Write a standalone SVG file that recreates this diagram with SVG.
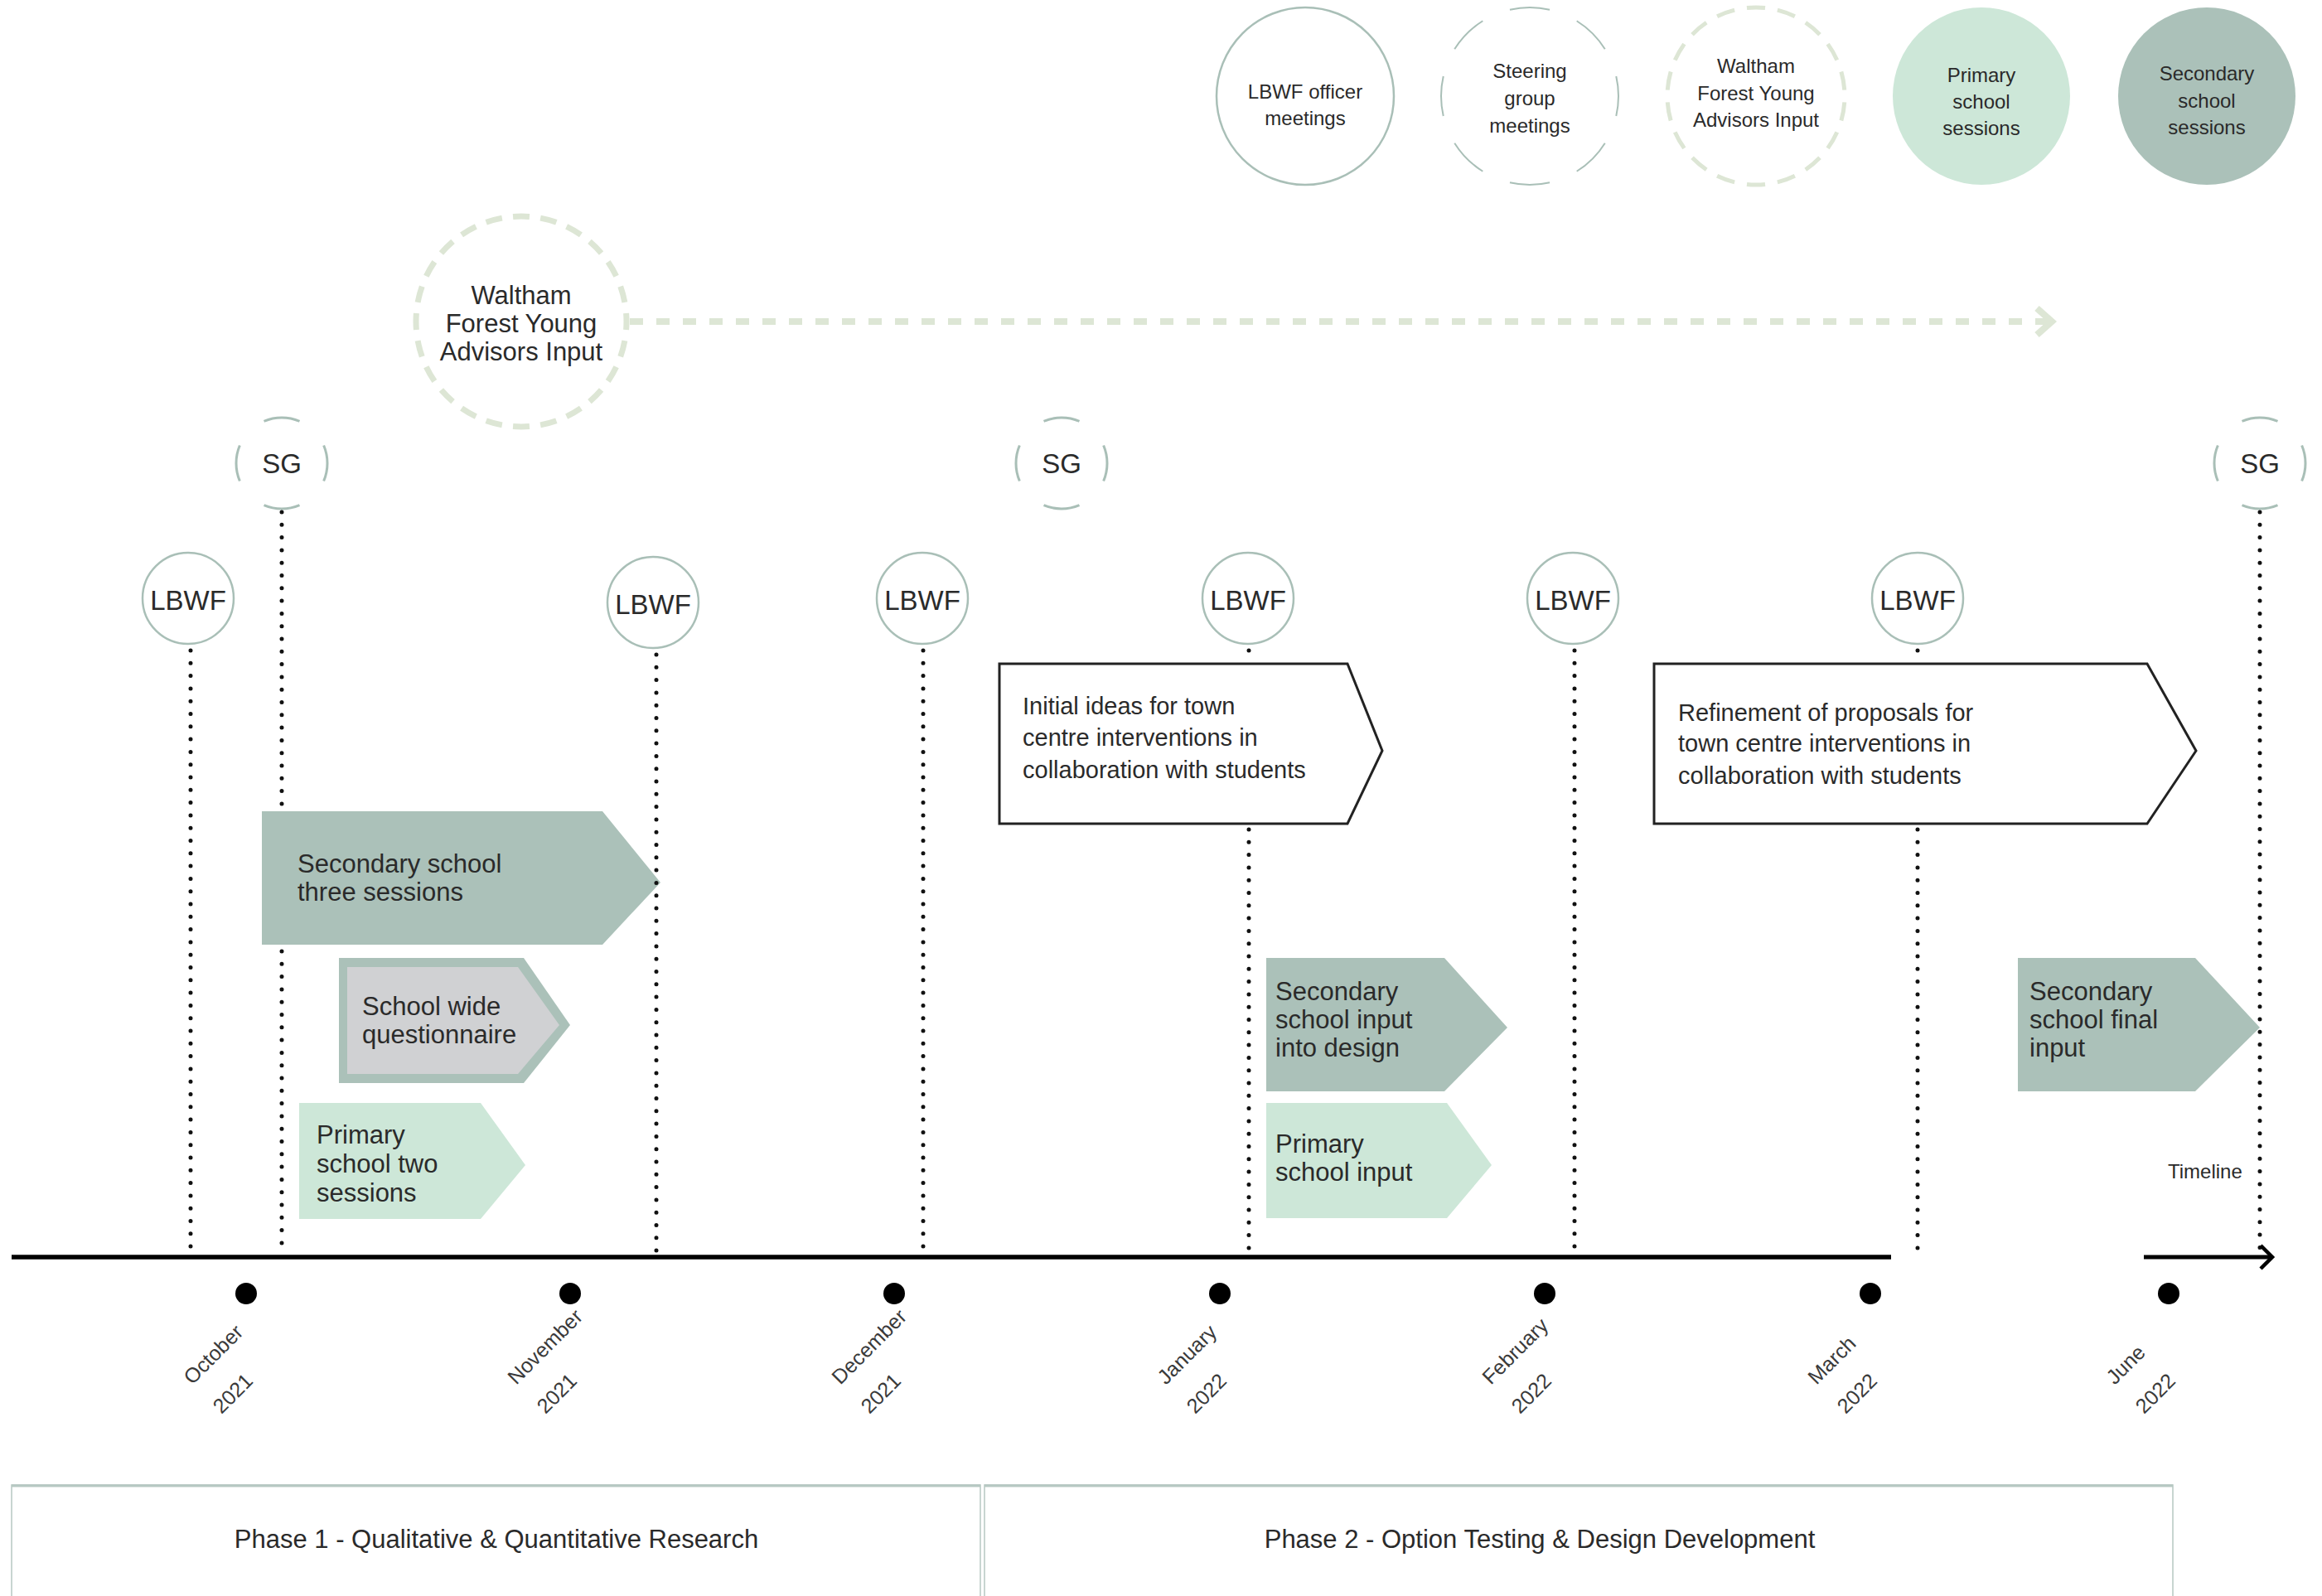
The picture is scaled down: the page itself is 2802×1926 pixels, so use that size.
<svg xmlns="http://www.w3.org/2000/svg" width="2802" height="1926" viewBox="0 0 2802 1926">
<style>
.t{font-family:"Liberation Sans",Arial,sans-serif;fill:#2a2a2a}
.leg{font-size:24px;text-anchor:middle}
.lbl{font-size:33px;text-anchor:middle}
.big{font-size:31px;text-anchor:middle}
.chev{font-size:31px}
.box{font-size:29px}
.mon{font-size:25px;fill:#3a3a3a}
.ph{font-size:31px;text-anchor:middle}
.ring{fill:#fff;stroke:#a9bfb7;stroke-width:2.5}
.sg{fill:none;stroke:#a9bfb7;stroke-width:3}
.dots{fill:none;stroke:#111;stroke-width:5;stroke-linecap:round;stroke-dasharray:0 15.3}
.sec{fill:#abc1b9}
.pri{fill:#cde7d8}
.wbox{fill:#fff;stroke:#222;stroke-width:3}
.wf{fill:none;stroke:#dde6d5}
.phase{fill:#fff;stroke:#b6c8c2;stroke-width:1.5}
</style>
<rect width="2802" height="1926" fill="#fff"/>

<!-- Legend -->
<g id="legend-lbwf">
<circle class="ring" cx="1575" cy="116" r="107" stroke-width="2"/>
<text class="t leg" x="1575" y="119">LBWF officer</text>
<text class="t leg" x="1575" y="151">meetings</text>
</g>
<g id="legend-sg">
<circle cx="1846" cy="116" r="107" fill="none" stroke="#a9bfb7" stroke-width="2" pathLength="360" stroke-dasharray="26 19" stroke-dashoffset="13"/>
<text class="t leg" x="1846" y="94">Steering</text>
<text class="t leg" x="1846" y="127">group</text>
<text class="t leg" x="1846" y="160">meetings</text>
</g>
<g id="legend-wfya">
<circle class="wf" cx="2119" cy="116" r="107" stroke-width="5" pathLength="360" stroke-dasharray="12 8" stroke-dashoffset="-4"/>
<text class="t leg" x="2119" y="88">Waltham</text>
<text class="t leg" x="2119" y="121">Forest Young</text>
<text class="t leg" x="2119" y="153">Advisors Input</text>
</g>
<g id="legend-primary">
<circle class="pri" cx="2391" cy="116" r="107"/>
<text class="t leg" x="2391" y="99">Primary</text>
<text class="t leg" x="2391" y="131">school</text>
<text class="t leg" x="2391" y="163">sessions</text>
</g>
<g id="legend-secondary">
<circle class="sec" cx="2663" cy="116" r="107"/>
<text class="t leg" x="2663" y="97">Secondary</text>
<text class="t leg" x="2663" y="130">school</text>
<text class="t leg" x="2663" y="162">sessions</text>
</g>

<!-- Waltham Forest Young Advisors Input -->
<g id="wfya">
<circle class="wf" cx="629" cy="388" r="127" stroke-width="7" pathLength="360" stroke-dasharray="9 6" stroke-dashoffset="4.5"/>
<text class="t big" x="629" y="367">Waltham</text>
<text class="t big" x="629" y="401">Forest Young</text>
<text class="t big" x="629" y="435">Advisors Input</text>
</g>

<!-- Steering group meetings -->
<g id="sg1">
<circle class="sg" cx="340" cy="559" r="55" pathLength="360" stroke-dasharray="46 44" stroke-dashoffset="23"/>
<text class="t lbl" x="340" y="571">SG</text>
</g>
<g id="sg2">
<circle class="sg" cx="1281" cy="559" r="55" pathLength="360" stroke-dasharray="46 44" stroke-dashoffset="23"/>
<text class="t lbl" x="1281" y="571">SG</text>
</g>
<g id="sg3">
<circle class="sg" cx="2727" cy="559" r="55" pathLength="360" stroke-dasharray="46 44" stroke-dashoffset="23"/>
<text class="t lbl" x="2727" y="571">SG</text>
</g>

<!-- LBWF meetings -->
<g id="lbwf1"><circle class="ring" cx="227" cy="722" r="55"/><text class="t lbl" x="227" y="736">LBWF</text></g>
<g id="lbwf2"><circle class="ring" cx="788" cy="727" r="55"/><text class="t lbl" x="788" y="741">LBWF</text></g>
<g id="lbwf3"><circle class="ring" cx="1113" cy="722" r="55"/><text class="t lbl" x="1113" y="736">LBWF</text></g>
<g id="lbwf4"><circle class="ring" cx="1506" cy="722" r="55"/><text class="t lbl" x="1506" y="736">LBWF</text></g>
<g id="lbwf5"><circle class="ring" cx="1898" cy="722" r="55"/><text class="t lbl" x="1898" y="736">LBWF</text></g>
<g id="lbwf6"><circle class="ring" cx="2314" cy="722" r="55"/><text class="t lbl" x="2314" y="736">LBWF</text></g>

<!-- Activities -->
<g id="initial-ideas">
<polygon class="wbox" points="1206,801 1626,801 1668,906 1626,994 1206,994"/>
<text class="t box" x="1234" y="862">Initial ideas for town</text>
<text class="t box" x="1234" y="900">centre interventions in</text>
<text class="t box" x="1234" y="939">collaboration with students</text>
</g>
<g id="refinement">
<polygon class="wbox" points="1996,801 2591,801 2650,906 2591,994 1996,994"/>
<text class="t box" x="2025" y="870">Refinement of proposals for</text>
<text class="t box" x="2025" y="907">town centre interventions in</text>
<text class="t box" x="2025" y="946">collaboration with students</text>
</g>
<g id="secondary-three">
<polygon class="sec" points="316,979 727,979 797,1065 727,1140 316,1140"/>
<text class="t chev" x="359" y="1053">Secondary school</text>
<text class="t chev" x="359" y="1087">three sessions</text>
</g>
<g id="questionnaire">
<polygon class="sec" points="409,1156 632,1156 688,1237 632,1307 409,1307"/>
<polygon fill="#d0d1d3" points="419,1167 625,1167 675,1237 625,1296 419,1296"/>
<text class="t chev" x="437" y="1225">School wide</text>
<text class="t chev" x="437" y="1259">questionnaire</text>
</g>
<g id="primary-two">
<polygon class="pri" points="361,1331 580,1331 634,1406 580,1471 361,1471"/>
<text class="t chev" x="382" y="1380">Primary</text>
<text class="t chev" x="382" y="1415">school two</text>
<text class="t chev" x="382" y="1450">sessions</text>
</g>
<g id="secondary-input">
<polygon class="sec" points="1528,1156 1743,1156 1819,1240 1743,1317 1528,1317"/>
<text class="t chev" x="1539" y="1207">Secondary</text>
<text class="t chev" x="1539" y="1241">school input</text>
<text class="t chev" x="1539" y="1275">into design</text>
</g>
<g id="primary-input">
<polygon class="pri" points="1528,1331 1746,1331 1800,1406 1746,1470 1528,1470"/>
<text class="t chev" x="1539" y="1391">Primary</text>
<text class="t chev" x="1539" y="1425">school input</text>
</g>
<g id="secondary-final">
<polygon class="sec" points="2435,1156 2649,1156 2727,1240 2649,1317 2435,1317"/>
<text class="t chev" x="2449" y="1207">Secondary</text>
<text class="t chev" x="2449" y="1241">school final</text>
<text class="t chev" x="2449" y="1275">input</text>
</g>

<!-- Connectors -->
<g id="connectors">
<line class="wf" x1="760" y1="388" x2="2474" y2="388" stroke-width="8" stroke-dasharray="16 16"/>
<polyline class="wf" points="2458,372 2476,388 2458,404" stroke-width="8"/>
<line class="dots" x1="230" y1="785" x2="230" y2="1512"/>
<line class="dots" x1="340" y1="618" x2="340" y2="972"/>
<line class="dots" x1="340" y1="1148" x2="340" y2="1512"/>
<line class="dots" x1="792" y1="790" x2="792" y2="1512"/>
<line class="dots" x1="1114" y1="785" x2="1114" y2="1512"/>
<line class="dots" x1="1507" y1="785" x2="1507" y2="795"/>
<line class="dots" x1="1507" y1="1001" x2="1507" y2="1512"/>
<line class="dots" x1="1900" y1="785" x2="1900" y2="1512"/>
<line class="dots" x1="2314" y1="785" x2="2314" y2="795"/>
<line class="dots" x1="2314" y1="1001" x2="2314" y2="1512"/>
<line class="dots" x1="2727" y1="618" x2="2727" y2="1512"/>
<line x1="14" y1="1517" x2="2282" y2="1517" stroke="#000" stroke-width="5.5"/>
<line x1="2587" y1="1517" x2="2740" y2="1517" stroke="#000" stroke-width="5"/>
<polyline points="2728,1503 2742,1517 2728,1531" fill="none" stroke="#000" stroke-width="4.5"/>
</g>

<!-- Timeline months -->
<g id="months">
<circle cx="297" cy="1561" r="13" fill="#000"/>
<circle cx="688" cy="1561" r="13" fill="#000"/>
<circle cx="1079" cy="1561" r="13" fill="#000"/>
<circle cx="1472" cy="1561" r="13" fill="#000"/>
<circle cx="1864" cy="1561" r="13" fill="#000"/>
<circle cx="2257" cy="1561" r="13" fill="#000"/>
<circle cx="2617" cy="1561" r="13" fill="#000"/>
<g transform="translate(232,1672) rotate(-45)"><text class="t mon" x="0" y="0">October</text><text class="t mon" x="0" y="50">2021</text></g>
<g transform="translate(623,1672) rotate(-45)"><text class="t mon" x="0" y="0">November</text><text class="t mon" x="0" y="50">2021</text></g>
<g transform="translate(1014,1672) rotate(-45)"><text class="t mon" x="0" y="0">December</text><text class="t mon" x="0" y="50">2021</text></g>
<g transform="translate(1407,1672) rotate(-45)"><text class="t mon" x="0" y="0">January</text><text class="t mon" x="0" y="50">2022</text></g>
<g transform="translate(1799,1672) rotate(-45)"><text class="t mon" x="0" y="0">February</text><text class="t mon" x="0" y="50">2022</text></g>
<g transform="translate(2192,1672) rotate(-45)"><text class="t mon" x="0" y="0">March</text><text class="t mon" x="0" y="50">2022</text></g>
<g transform="translate(2552,1672) rotate(-45)"><text class="t mon" x="0" y="0">June</text><text class="t mon" x="0" y="50">2022</text></g>
</g>
<text id="timeline-label" class="t" x="2616" y="1422" font-size="24">Timeline</text>

<!-- Phases -->
<g id="phase1">
<rect class="phase" x="14" y="1792" width="1169" height="200"/>
<line x1="14" y1="1793" x2="1183" y2="1793" stroke="#b6c8c2" stroke-width="3"/>
<text class="t ph" x="599" y="1868">Phase 1 - Qualitative &amp; Quantitative Research</text>
</g>
<g id="phase2">
<rect class="phase" x="1188" y="1792" width="1434" height="200"/>
<line x1="1188" y1="1793" x2="2622" y2="1793" stroke="#b6c8c2" stroke-width="3"/>
<text class="t ph" x="1858" y="1868">Phase 2 - Option Testing &amp; Design Development</text>
</g>
</svg>
